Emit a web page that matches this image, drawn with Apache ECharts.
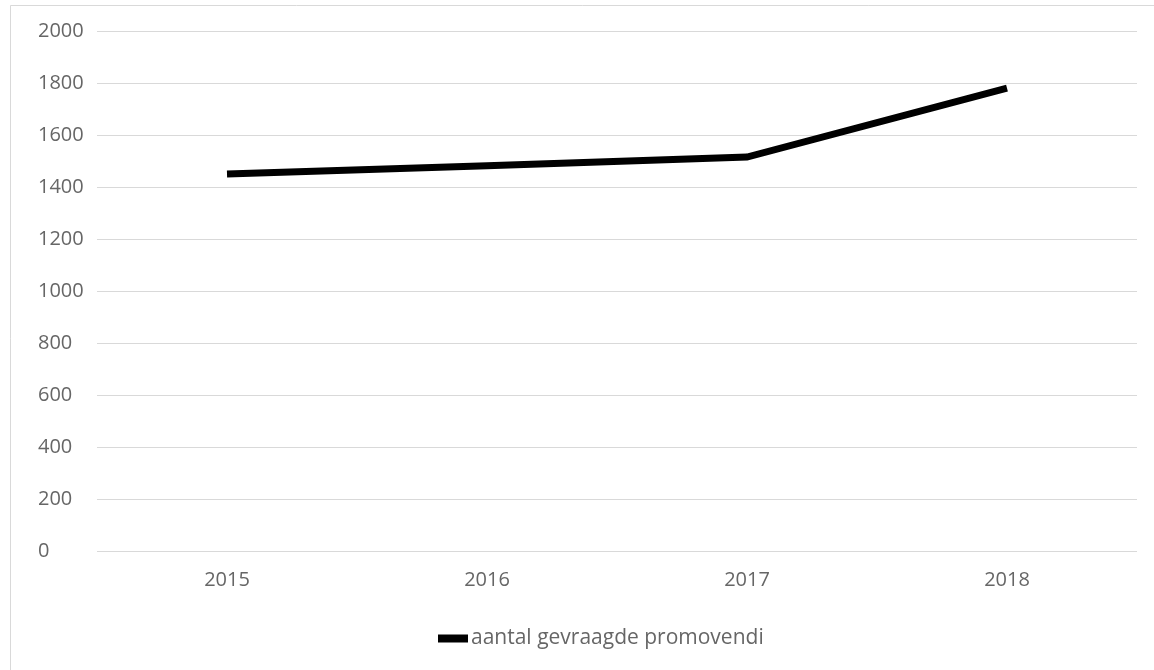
<!DOCTYPE html>
<html>
<head>
<meta charset="utf-8">
<script src="https://cdn.jsdelivr.net/npm/echarts@6/dist/echarts.min.js"></script>
<style>
html,body{margin:0;padding:0;background:#fff;}
#c{width:1154px;height:670px;}
</style>
</head>
<body>
<div id="c"></div>
<script>
const years = ['2015', '2016', '2017', '2018'];
const promovendi = [1450, 1482, 1515, 1780];
const seriesName = 'aantal gevraagde promovendi';
const yTicks = [0, 200, 400, 600, 800, 1000, 1200, 1400, 1600, 1800, 2000];

const chart = echarts.init(document.getElementById('c'));
chart.setOption({
  animation: false,
  backgroundColor: '#fff',
  graphic: [{
    type: 'rect',
    shape: {x: 10.5, y: 5.5, width: 1160, height: 700},
    style: {fill: 'none', stroke: '#d9d9d9', lineWidth: 1},
    silent: true
  }],
  grid: {left: 97, right: 17, top: 31, bottom: 119, containLabel: false},
  legend: {
    top: 623,
    left: 433,
    itemWidth: 30,
    itemHeight: 8,
    itemGap: 4,
    icon: 'rect',
    textStyle: {fontFamily: 'Open Sans', fontSize: 21, color: '#666666', padding: [0, 0, 0, -2]},
    data: [seriesName]
  },
  xAxis: {
    type: 'category',
    data: years,
    boundaryGap: true,
    axisLine: {show: false},
    axisTick: {show: false},
    axisLabel: {fontFamily: 'Open Sans', fontSize: 20, color: '#666666', margin: 19}
  },
  yAxis: {
    type: 'value',
    min: yTicks[0],
    max: yTicks[yTicks.length - 1],
    interval: 200,
    axisLine: {show: false},
    axisTick: {show: false},
    splitLine: {lineStyle: {color: '#d9d9d9', width: 1}},
    axisLabel: {fontFamily: 'Open Sans', fontSize: 20, color: '#666666', align: 'left', margin: 59,
      formatter: v => String(v)}
  },
  series: [{
    name: seriesName,
    type: 'line',
    data: promovendi,
    symbol: 'none',
    lineStyle: {color: '#000', width: 7, cap: 'butt', join: 'miter'},
    itemStyle: {color: '#000'}
  }]
});
</script>
</body>
</html>
